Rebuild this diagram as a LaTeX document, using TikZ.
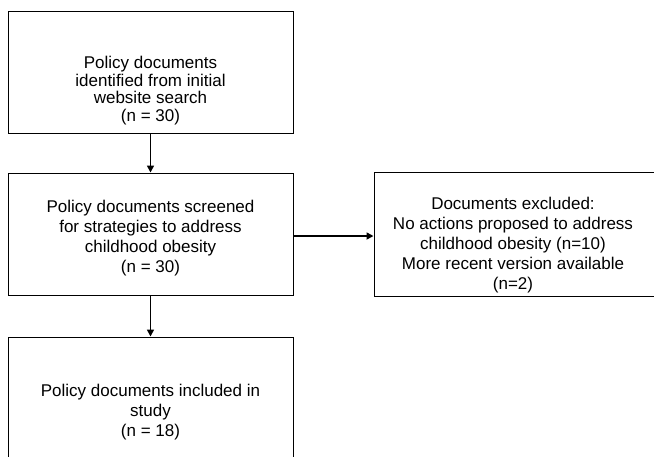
\documentclass[tikz,border=0pt]{standalone}
\usepackage{fontspec}
\setmainfont{Liberation Sans}
\usetikzlibrary{arrows.meta}

\begin{document}
\begin{tikzpicture}[x=1pt, y=-1pt,
  every node/.style={font=\fontsize{17}{20}\selectfont, align=center},
  flowbox/.style={draw, line width=1pt, minimum width=285pt, minimum height=122pt, inner sep=0pt},
  flowarrow/.style={line width=1.6pt, -{Triangle[length=7pt,width=7pt]}}]
\useasboundingbox (0,0) rectangle (654,456);
\clip (0,0) rectangle (654,456);
% boxes
\node[flowbox] (ident) at (150.5,72) {};
\node[flowbox] (screen) at (150.5,234) {};
\node[flowbox, minimum width=290pt, minimum height=124pt] (excl) at (519,234.7) {};
\node[flowbox, minimum height=146pt] (incl) at (150.5,410) {};
% texts
\node[font=\fontsize{17}{17.5}\selectfont] (identtext) at ([yshift=-18.5pt]ident.center)
  {Policy documents\\identified from initial\\website search\\(n = 30)};
\node (screentext) at ([yshift=-4.5pt]screen.center)
  {Policy documents screened\\for strategies to address\\childhood obesity\\(n = 30)};
\node (excltext) at ([xshift=-6pt, yshift=-10.5pt]excl.center)
  {Documents excluded:\\No actions proposed to address\\childhood obesity (n=10)\\More recent version available\\(n=2)};
\node (incltext) at ([yshift=-2.5pt]incl.center)
  {Policy documents included in\\study\\(n = 18)};
% arrows
\draw[flowarrow] (ident) -- (screen);
\draw[flowarrow] (screen.east |- 0,236) -- (excl.west |- 0,236);
\draw[flowarrow] (screen) -- (incl);
\end{tikzpicture}
\end{document}
